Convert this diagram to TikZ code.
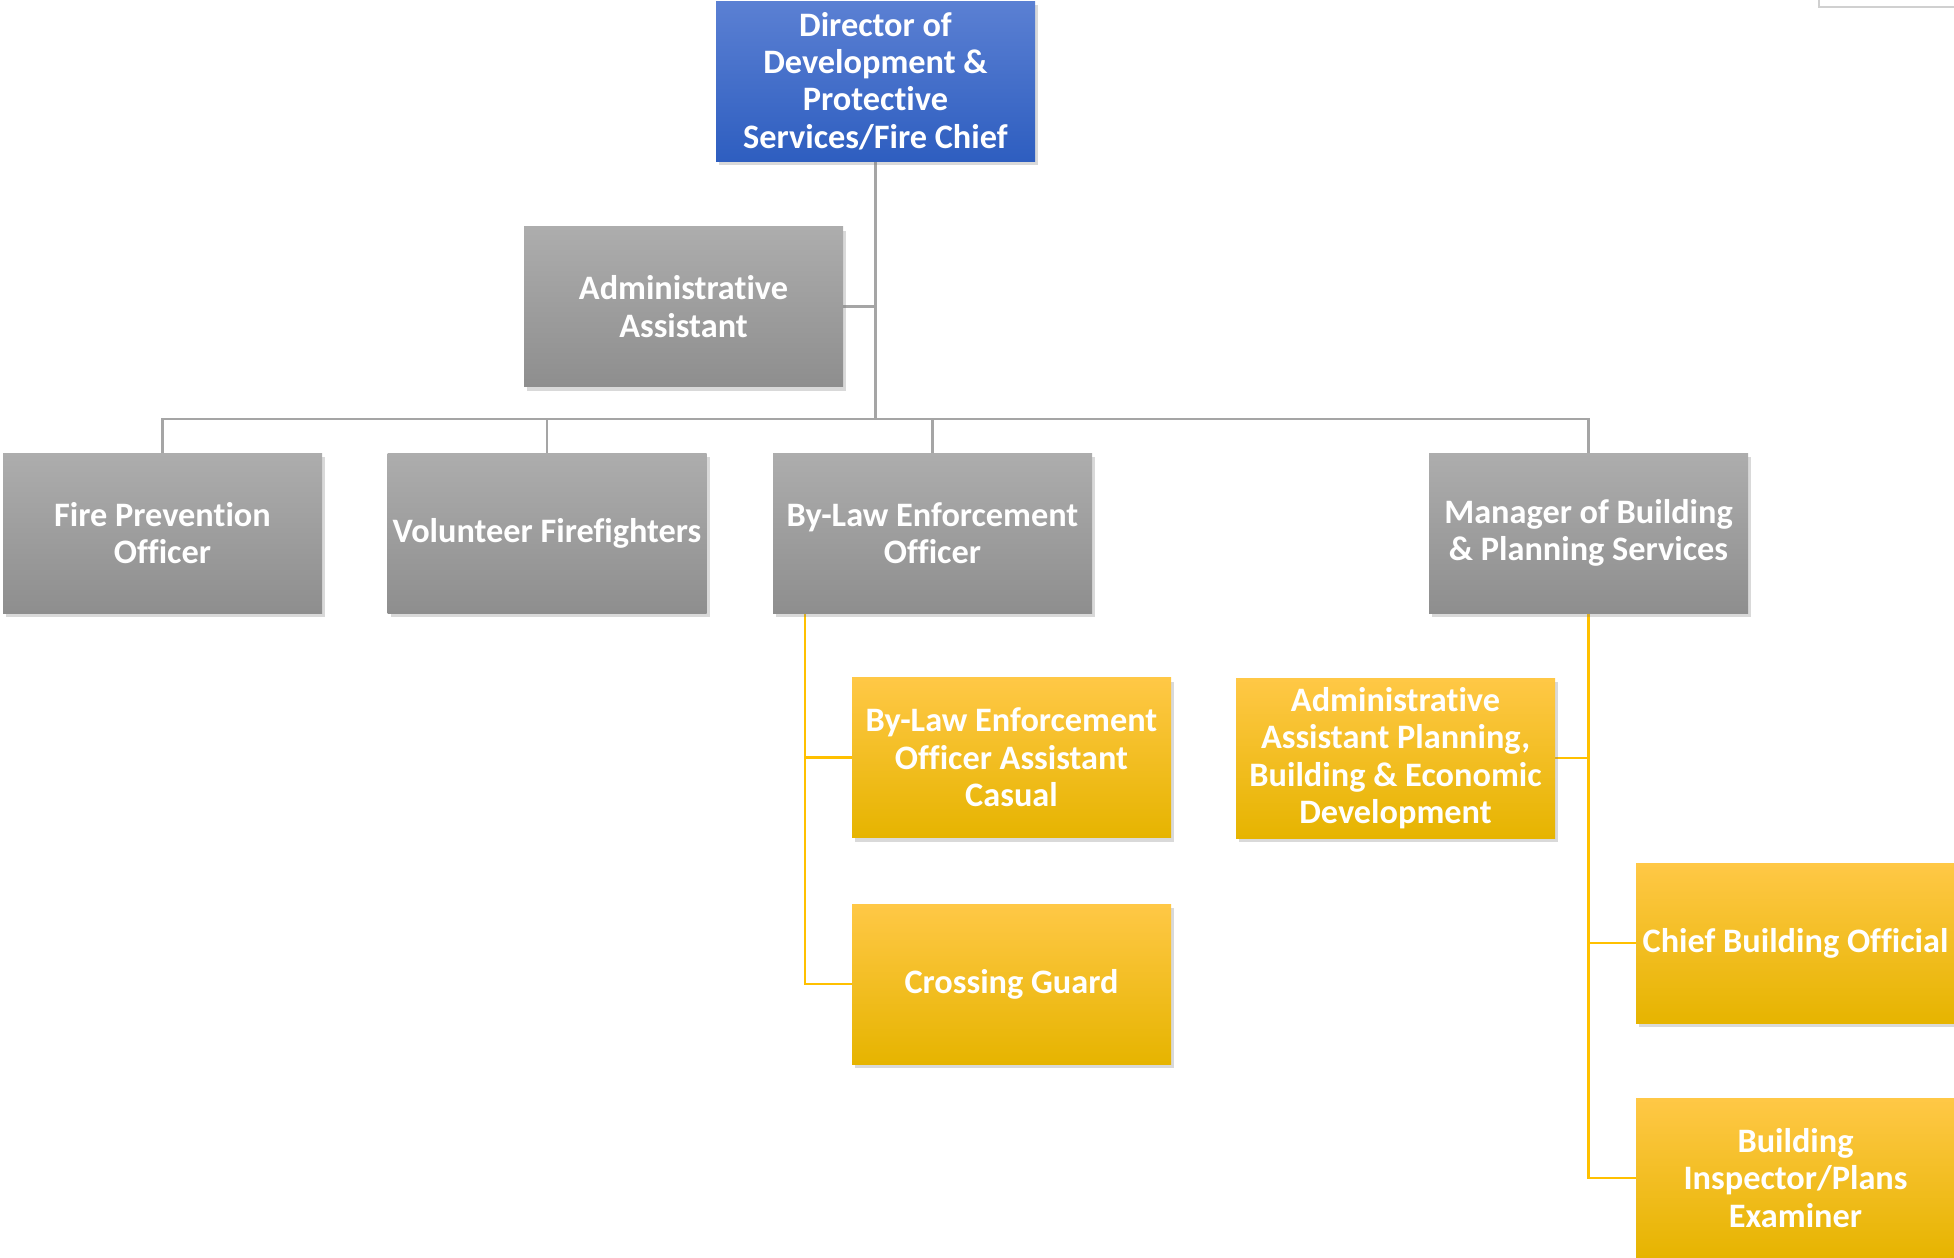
\documentclass[tikz,border=0pt]{standalone}
\usepackage{fontspec}
\setmainfont{Carlito}[Ligatures=NoCommon]
\usetikzlibrary{shadows,backgrounds}
\definecolor{bluetop}{HTML}{5B80D3}
\definecolor{bluebot}{HTML}{2E5EC0}
\definecolor{graytop}{HTML}{ADADAD}
\definecolor{graybot}{HTML}{8E8E8E}
\definecolor{yeltop}{HTML}{FFC846}
\definecolor{yelmid}{HTML}{FFC000}
\definecolor{yelbot}{HTML}{E6B400}
\definecolor{glinec}{HTML}{A5A5A5}
\definecolor{ylinec}{HTML}{FFC000}
\definecolor{framec}{HTML}{D0D0D0}
\tikzset{
  box/.style={rectangle, minimum width=319pt, minimum height=160pt, inner sep=1pt,
    align=center, text=white, font=\fontsize{34.3}{37.4}\selectfont\bfseries,
    drop shadow={shadow xshift=3pt, shadow yshift=-4pt, opacity=0.3}},
  bluebox/.style={box, top color=bluetop, bottom color=bluebot},
  graybox/.style={box, top color=graytop, bottom color=graybot},
  yelbox/.style={box, top color=yeltop, middle color=yelmid, bottom color=yelbot},
  gline/.style={draw=glinec, line width=2.6pt},
  yline/.style={draw=ylinec, line width=2.6pt},
}
\begin{document}
\begin{tikzpicture}[x=1pt,y=-1pt]
\useasboundingbox (0,0) rectangle (1954,1258);
\node[bluebox] (dir) at (875.5,81) {Director of\\Development \&\\Protective\\Services/Fire Chief};
\node[graybox] (adm) at (683.5,306.5) {Administrative\\Assistant};
\node[graybox] (fpo) at (162.5,533) {Fire Prevention\\Officer};
\node[graybox] (vf) at (547,533) {Volunteer Firefighters};
\node[graybox] (bleo) at (932.5,533) {By-Law Enforcement\\Officer};
\node[graybox] (mbps) at (1588.5,533) {Manager of Building\\\& Planning Services};
\node[yelbox] (bleoac) at (1011.5,757.5) {By-Law Enforcement\\Officer Assistant\\Casual};
\node[yelbox] (cg) at (1011.5,984) {Crossing Guard};
\node[yelbox] (aap) at (1395.5,758) {Administrative\\Assistant Planning,\\Building \& Economic\\Development};
\node[yelbox] (cbo) at (1795.5,943) {Chief Building Official};
\node[yelbox] (bip) at (1795.5,1178) {Building\\Inspector/Plans\\Examiner};
\coordinate (bus) at (875.5,419);
\coordinate (bl) at (805,613);
\begin{scope}[on background layer]
\draw[gline] (dir.south) -- (dir.south |- bus);
\draw[gline] (adm.east) -- (dir.south |- adm.east);
\draw[gline] (fpo.north) -- (fpo.north |- bus) -| (mbps.north);
\draw[gline] (vf.north) -- (vf.north |- bus);
\draw[gline] (bleo.north) -- (bleo.north |- bus);
\draw[yline] (bl) |- (cg.west);
\draw[yline] (bl |- bleoac.west) -- (bleoac.west);
\draw[yline] (mbps.south) |- (bip.west);
\draw[yline] (mbps.south |- cbo.west) -- (cbo.west);
\draw[yline] (aap.east) -- (mbps.south |- aap.east);
\end{scope}
\draw[framec, line width=1.5pt] (1819,0) -- (1819,7) -- (1954,7);
\end{tikzpicture}
\end{document}
